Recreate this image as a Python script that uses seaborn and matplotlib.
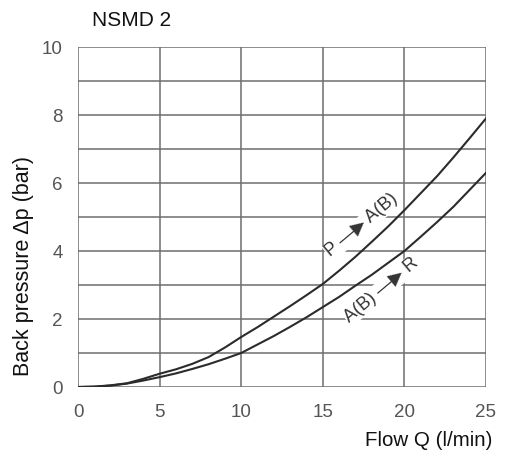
import numpy as np
import pandas as pd
import matplotlib
matplotlib.use("Agg")
import matplotlib.pyplot as plt
import seaborn as sns

# flow Q (l/min) and back pressure (bar)
flow = list(range(0, 26))
p_to_ab = [0, 0.01, 0.05, 0.11, 0.24, 0.39, 0.52, 0.68, 0.88, 1.16, 1.47,
           1.76, 2.07, 2.38, 2.70, 3.03, 3.42, 3.83, 4.27, 4.72, 5.20,
           5.70, 6.20, 6.75, 7.32, 7.90]
ab_to_r = [0, 0.01, 0.04, 0.10, 0.19, 0.29, 0.40, 0.53, 0.67, 0.83, 1.00,
           1.25, 1.50, 1.77, 2.05, 2.35, 2.65, 2.98, 3.30, 3.65, 4.00,
           4.42, 4.85, 5.30, 5.80, 6.30]

title = "NSMD 2"
x_label = "Flow Q (l/min)"
y_label = "Back pressure \u0394p (bar)"
x_ticks = [0, 5, 10, 15, 20, 25]
y_ticks = [0, 2, 4, 6, 8, 10]

df = pd.DataFrame({
    "flow": flow * 2,
    "dp": p_to_ab + ab_to_r,
    "path": ["P-A(B)"] * len(flow) + ["A(B)-R"] * len(flow),
})

sns.set_style("white")
plt.rcParams["font.family"] = ["Liberation Sans", "DejaVu Sans"]

fig = plt.figure(figsize=(5.07, 4.59), dpi=100)
ax = fig.add_axes([78 / 507, 1 - 387 / 459, 408 / 507, 340 / 459])

grid_col = "#6e6e6e"
for v in range(0, 26, 5):
    ax.axvline(v, color=grid_col, lw=1.1, zorder=1)
for h in range(0, 11):
    ax.axhline(h, color=grid_col, lw=1.1, zorder=1)

sns.lineplot(data=df, x="flow", y="dp", units="path", estimator=None,
             color="#2b2b2b", lw=1.5, ax=ax, zorder=3, legend=False)

ax.set_xlim(0, 25)
ax.set_ylim(0, 10)
ax.set_xticks(x_ticks)
ax.set_yticks(y_ticks)
for s in ax.spines.values():
    s.set_visible(False)
ax.tick_params(axis="y", length=7, width=1.1, color=grid_col, labelsize=13.5,
               labelcolor="#555555", pad=4)
ax.tick_params(axis="x", length=0, labelsize=13.5, labelcolor="#555555", pad=12)
ax.set_xlabel("")
ax.set_ylabel("")

fig.text(24 / 507, 1 - 266 / 459, y_label, rotation=90, ha="center",
         va="center", fontsize=15.5, color="#111111")
fig.text(492 / 507, 1 - 441 / 459, x_label, ha="right", va="center",
         fontsize=14.8, color="#111111")
fig.text(92 / 507, 1 - 20 / 459, title, ha="left", va="center",
         fontsize=15, color="#111111")

box = dict(facecolor="white", edgecolor="none", pad=0.5)
ax.text(17.4, 4.75, "P \u2014\u25B6 A(B)", rotation=40, ha="center",
        va="center", fontsize=13, color="#333333", bbox=box, zorder=2,
        rotation_mode="anchor")
ax.text(18.6, 2.85, "A(B) \u2014\u25B6 R", rotation=40, ha="center",
        va="center", fontsize=13, color="#333333", bbox=box, zorder=2,
        rotation_mode="anchor")

fig.savefig("out.png", dpi=100)
